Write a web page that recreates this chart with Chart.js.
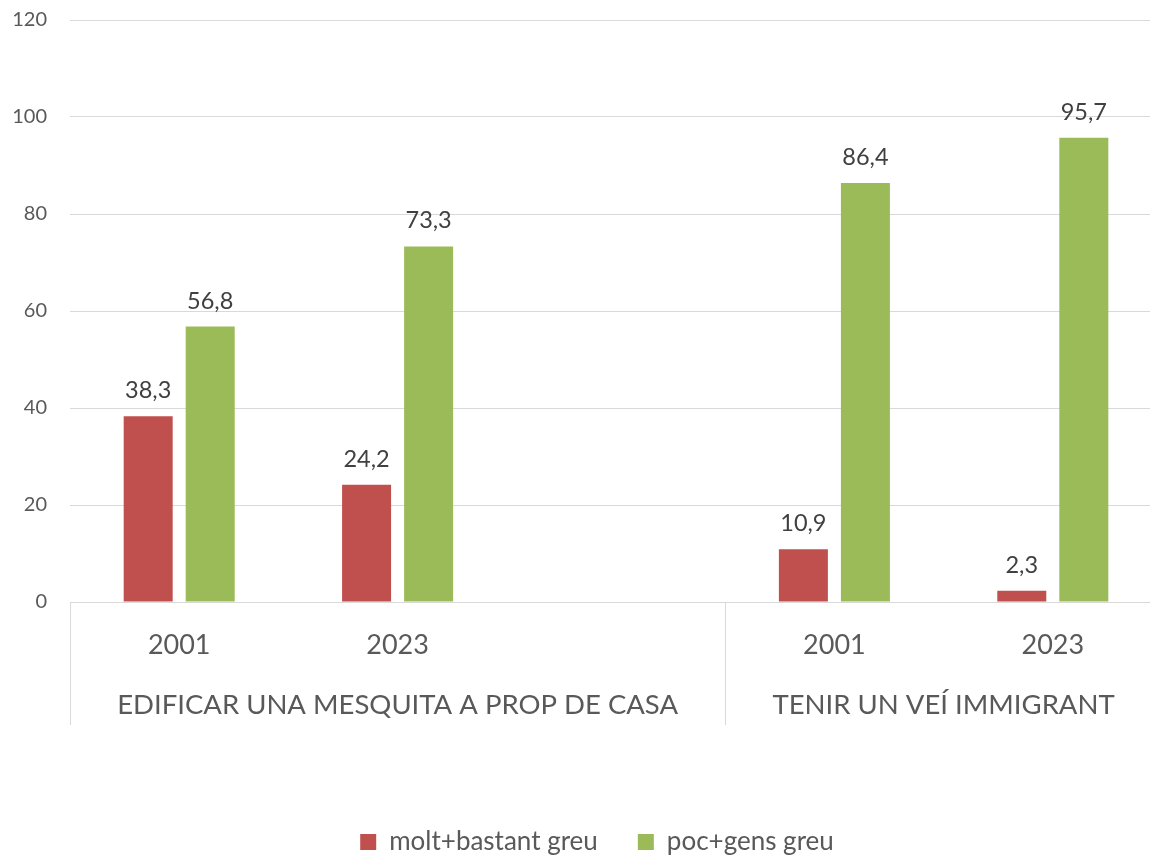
<!DOCTYPE html>
<html>
<head>
<meta charset="utf-8">
<script src="https://cdn.jsdelivr.net/npm/chart.js@4"></script>
<style>
  html, body { margin: 0; padding: 0; overflow: hidden; background: #fff; }
  #wrap { width: 1162px; height: 865px; }
</style>
</head>
<body>
<div id="wrap"><canvas id="chart" width="1162" height="865"></canvas></div>
<script>
// categories (inner level = year, outer level = question)
const years = ['2001', '2023', '', '2001', '2023'];
const groups = [
  { label: 'EDIFICAR UNA MESQUITA A PROP DE CASA', from: 0, to: 2 },
  { label: 'TENIR UN VEÍ IMMIGRANT', from: 3, to: 4 }
];
const seriesNames = ['molt+bastant greu', 'poc+gens greu'];
const greuValues = [38.3, 24.2, null, 10.9, 2.3];
const pocValues = [56.8, 73.3, null, 86.4, 95.7];

const textColor = '#595959';
const gridColor = '#d9d9d9';
const fontFamily = 'Lato, "Open Sans", sans-serif';

// value labels above bars, comma decimal
const barLabels = {
  id: 'barLabels',
  afterDatasetsDraw(chart) {
    const ctx = chart.ctx;
    ctx.save();
    ctx.fillStyle = '#404040';
    ctx.font = '23.5px ' + fontFamily;
    ctx.textAlign = 'center';
    ctx.textBaseline = 'alphabetic';
    chart.data.datasets.forEach((ds, i) => {
      chart.getDatasetMeta(i).data.forEach((bar, j) => {
        const v = ds.data[j];
        if (v == null) return;
        ctx.fillText(String(v).replace('.', ','), bar.x, bar.y - 18);
      });
    });
    ctx.restore();
  }
};

// second level of the category axis + its separators
const groupAxis = {
  id: 'groupAxis',
  afterLayout(chart) {
    // legend sits a bit right of centre in the original
    chart.legend.left += 32;
  },
  afterDraw(chart) {
    const x = chart.scales.x;
    const ctx = chart.ctx;
    const half = (x.getPixelForValue(1) - x.getPixelForValue(0)) / 2;
    const top = chart.chartArea.bottom;
    ctx.save();
    ctx.strokeStyle = gridColor;
    ctx.lineWidth = 1;
    ctx.fillStyle = textColor;
    ctx.font = '27.5px ' + fontFamily;
    ctx.textAlign = 'center';
    ctx.textBaseline = 'middle';
    groups.forEach(g => {
      const l = x.getPixelForValue(g.from) - half;
      const r = x.getPixelForValue(g.to) + half;
      ctx.beginPath();
      ctx.moveTo(Math.round(l) + 0.5, top);
      ctx.lineTo(Math.round(l) + 0.5, top + 123);
      ctx.stroke();
      ctx.fillText(g.label, (l + r) / 2, top + 103);
    });
    ctx.restore();
  }
};

new Chart(document.getElementById('chart'), {
  type: 'bar',
  data: {
    labels: years,
    datasets: [{
      label: seriesNames[0],
      data: greuValues,
      backgroundColor: '#c0504d'
    }, {
      label: seriesNames[1],
      data: pocValues,
      backgroundColor: '#9bbb59'
    }]
  },
  options: {
    responsive: false,
    animation: false,
    categoryPercentage: 0.568,
    barPercentage: 0.79,
    layout: { padding: { top: 20, left: 0, right: 0, bottom: 0 } },
    plugins: {
      legend: {
        position: 'bottom',
        labels: {
          color: textColor,
          font: { family: fontFamily, size: 26 },
          boxWidth: 16,
          boxHeight: 16,
          padding: 40
        }
      },
      tooltip: { enabled: false }
    },
    scales: {
      x: {
        grid: { display: false },
        border: { display: false },
        ticks: {
          color: textColor,
          font: { family: fontFamily, size: 27 },
          padding: 19,
          maxRotation: 0
        },
        afterFit(s) { s.height = 187; }
      },
      y: {
        min: 0,
        max: 120,
        ticks: {
          stepSize: 20,
          color: textColor,
          font: { family: fontFamily, size: 20 },
          padding: 23
        },
        grid: { color: gridColor, drawTicks: false },
        border: { display: false },
        afterFit(s) {
          s.width = 70;
          s.paddingTop = 0;
          s.paddingBottom = 0;
        }
      }
    }
  },
  plugins: [barLabels, groupAxis]
});
</script>
</body>
</html>
